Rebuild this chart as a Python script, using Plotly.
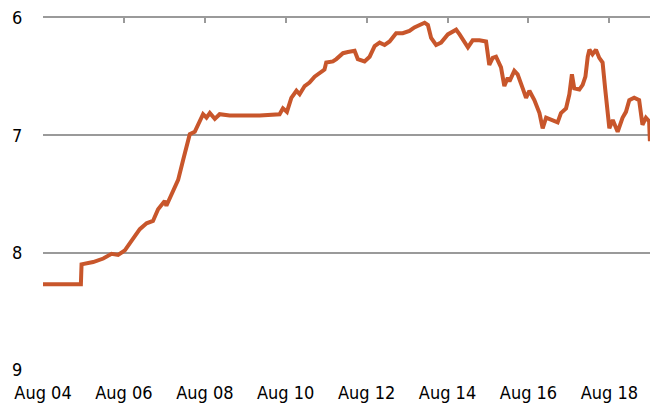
import plotly.graph_objects as go

dates = [
    "2004-08-01", "2005-07-09", "2005-07-15", "2005-10-28", "2006-01-27", "2006-04-12",
    "2006-06-10", "2006-08-10", "2006-10-09", "2006-12-23", "2007-02-22", "2007-04-21",
    "2007-06-06", "2007-08-05", "2007-08-20", "2007-10-05", "2007-11-04", "2007-12-04",
    "2008-01-18", "2008-02-18", "2008-03-18", "2008-05-02", "2008-06-01", "2008-07-16",
    "2008-08-16", "2008-09-15", "2008-10-30", "2008-12-13", "2009-03-13", "2009-06-12",
    "2009-12-10", "2010-06-07", "2010-07-07", "2010-08-12", "2010-09-21", "2010-11-06",
    "2010-12-05", "2011-01-19", "2011-03-04", "2011-04-19", "2011-06-03", "2011-07-17",
    "2011-08-02", "2011-10-01", "2011-11-01", "2011-12-01", "2011-12-31", "2012-02-14",
    "2012-04-14", "2012-05-13", "2012-07-13", "2012-08-28", "2012-10-12", "2012-11-26",
    "2013-01-10", "2013-02-24", "2013-04-24", "2013-06-23", "2013-08-22", "2013-10-06",
    "2013-11-21", "2014-01-06", "2014-02-05", "2014-03-06", "2014-04-20", "2014-06-04",
    "2014-08-04", "2014-10-18", "2014-11-18", "2015-01-01", "2015-02-01", "2015-03-16",
    "2015-05-16", "2015-07-15", "2015-07-29", "2015-08-13", "2015-09-13", "2015-10-13",
    "2015-11-27", "2015-12-27", "2016-01-27", "2016-02-11", "2016-03-26", "2016-04-25",
    "2016-06-10", "2016-07-10", "2016-08-09", "2016-09-23", "2016-11-08", "2016-12-07",
    "2017-01-07", "2017-02-21", "2017-04-21", "2017-05-21", "2017-07-06", "2017-08-05",
    "2017-08-28", "2017-09-18", "2017-11-03", "2017-12-03", "2017-12-28", "2018-01-18",
    "2018-02-02", "2018-03-02", "2018-04-02", "2018-05-02", "2018-06-01", "2018-06-25",
    "2018-07-15", "2018-08-01", "2018-09-01", "2018-10-15", "2018-11-28", "2018-12-29",
    "2019-01-28", "2019-03-13", "2019-04-27", "2019-05-27", "2019-06-27", "2019-07-26",
    "2019-08-02",
]
values = [
    8.27, 8.27, 8.10, 8.08, 8.05, 8.01,
    8.02, 7.98, 7.90, 7.80, 7.75, 7.73,
    7.63, 7.56, 7.60, 7.51, 7.44, 7.38,
    7.21, 7.09, 6.99, 6.97, 6.91, 6.82,
    6.85, 6.81, 6.86, 6.82, 6.83, 6.83,
    6.83, 6.82, 6.77, 6.80, 6.68, 6.62,
    6.65, 6.58, 6.55, 6.50, 6.47, 6.44,
    6.38, 6.37, 6.35, 6.33, 6.30, 6.29,
    6.28, 6.35, 6.37, 6.33, 6.24, 6.21,
    6.23, 6.20, 6.13, 6.13, 6.11, 6.08,
    6.06, 6.04, 6.06, 6.17, 6.23, 6.21,
    6.14, 6.10, 6.14, 6.21, 6.25, 6.19,
    6.19, 6.20, 6.30, 6.40, 6.34, 6.33,
    6.42, 6.58, 6.51, 6.54, 6.45, 6.48,
    6.60, 6.68, 6.62, 6.70, 6.81, 6.94,
    6.85, 6.87, 6.89, 6.81, 6.77, 6.65,
    6.48, 6.60, 6.61, 6.57, 6.50, 6.33,
    6.27, 6.31, 6.27, 6.34, 6.38, 6.61,
    6.78, 6.94, 6.87, 6.97, 6.85, 6.80,
    6.70, 6.68, 6.70, 6.91, 6.85, 6.88,
    7.05,
]

tick_dates = ["2004-08-01", "2006-08-01", "2008-08-01", "2010-08-01",
              "2012-08-01", "2014-08-01", "2016-08-01", "2018-08-01"]
tick_labels = ["Aug 04", "Aug 06", "Aug 08", "Aug 10",
               "Aug 12", "Aug 14", "Aug 16", "Aug 18"]
y_ticks = [6, 7, 8, 9]

x_range = ["2004-08-01", "2019-08-03"]
FONT = "DejaVu Sans Condensed, Lato, sans-serif"
GRID = "#9a9a9a"

fig = go.Figure()
fig.add_trace(go.Scatter(
    x=dates, y=values, mode="lines",
    line=dict(color="#C8562B", width=4),
    hoverinfo="skip", showlegend=False,
))
fig.add_trace(go.Scatter(
    x=dates, y=values, mode="lines", xaxis="x2",
    line=dict(color="rgba(0,0,0,0)", width=0),
    hoverinfo="skip", showlegend=False,
))

fig.update_layout(
    width=660, height=408,
    margin=dict(l=43, r=10, t=18, b=38),
    paper_bgcolor="white", plot_bgcolor="white",
    font=dict(family=FONT, size=18, color="#000000"),
    xaxis=dict(
        type="date", range=x_range, automargin=False,
        tickvals=tick_dates, ticktext=tick_labels,
        showgrid=False, zeroline=False, showline=False,
        ticks="outside", ticklen=6, tickcolor="rgba(0,0,0,0)",
        tickfont=dict(size=18),
    ),
    xaxis2=dict(
        type="date", range=x_range, overlaying="x", side="top", automargin=False,
        tickvals=tick_dates, showticklabels=False,
        showgrid=False, zeroline=False,
        showline=True, linecolor=GRID, linewidth=1.5,
        ticks="inside", ticklen=5, tickcolor=GRID, tickwidth=1.5,
    ),
    yaxis=dict(
        range=[9, 6], tickvals=y_ticks, automargin=False,
        showgrid=True, gridcolor=GRID, gridwidth=1.5,
        zeroline=False, showline=False,
        ticks="outside", ticklen=16, tickcolor="rgba(0,0,0,0)",
        tickfont=dict(size=18),
    ),
)

fig.write_html("out.html", config={"displayModeBar": False},
               post_script="document.body.style.margin='0';")
